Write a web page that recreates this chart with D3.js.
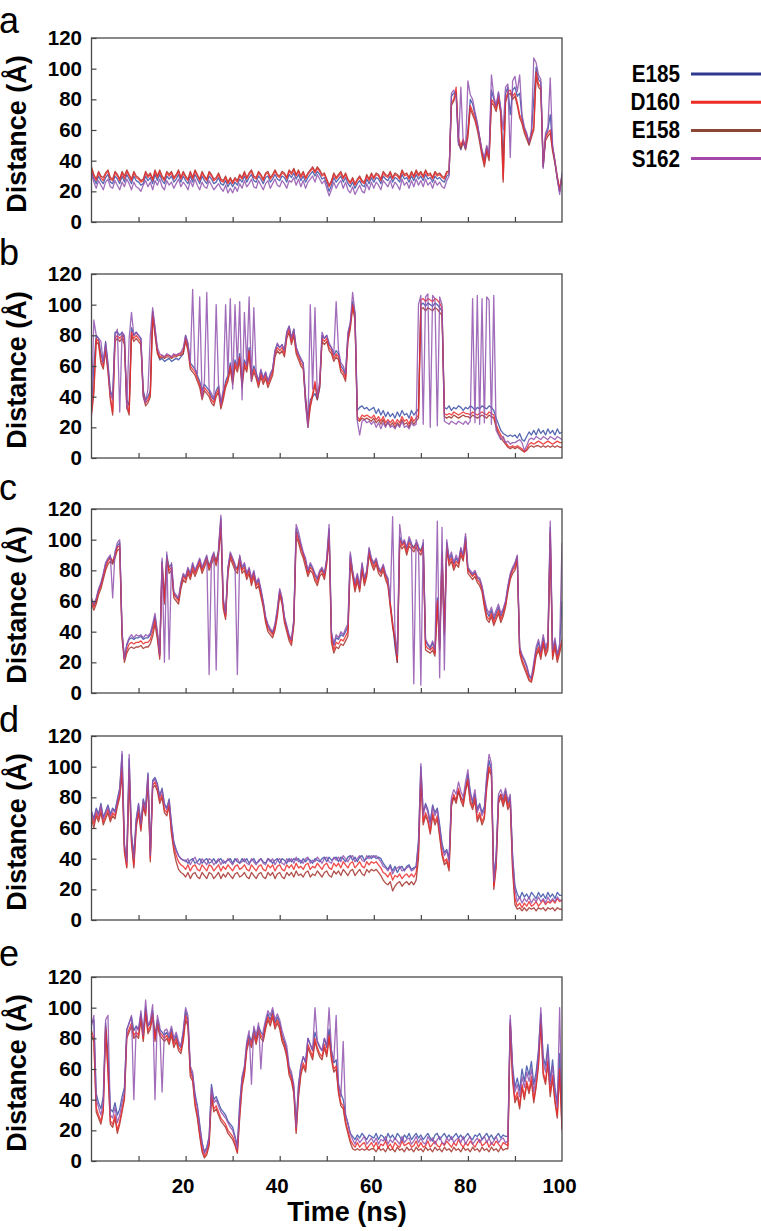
<!DOCTYPE html>
<html><head><meta charset="utf-8">
<script src="https://cdn.jsdelivr.net/npm/d3@7"></script>
<style>
body{margin:0;background:#fff}
svg{display:block}
.tick text{font-family:"Liberation Sans",Arial,Helvetica,sans-serif;font-weight:bold;font-size:20.5px;fill:#000}
.tick line{stroke:#444;stroke-width:1.2}
</style></head>
<body><svg id="chart" width="761" height="1231"></svg>
<script>
// ---------- data ----------
const seriesNames = ["E185","D160","E158","S162"];
const seriesColors = ["#3a4fa6","#ec2a2a","#a3302b","#9152ae"];
const legendColors = ["#2e3990","#ee2a24","#8a4736","#a447a8"];
const panelLetters = ["a","b","c","d","e"];
const yTickValues = [0,20,40,60,80,100,120];
const xTickValues = [10,20,30,40,50,60,70,80,90];
const xTickLabels = [20,40,60,80,100];
const timeStep = 0.5; // ns between samples, 0..100 ns

const aE185 = [33,28,25,30,27,25,29,31,26,25,30,28,25,30,26,31,28,25,30,27,
26,24,25,30,27,29,25,31,27,31,27,25,30,28,30,26,28,31,26,30,
27,25,30,26,31,28,25,30,27,25,30,28,25,26,29,25,24,27,23,26,
23,26,24,28,26,30,26,29,31,27,26,30,28,25,29,30,26,28,31,28,
27,30,29,26,31,29,32,28,31,27,30,26,29,31,33,30,33,31,28,29,
25,20,24,29,26,28,30,26,29,25,23,26,22,25,27,24,23,28,25,29,
26,29,28,25,30,28,27,30,26,29,28,26,31,28,29,26,30,27,31,28,
30,27,31,28,29,26,30,28,29,27,26,30,31,82,84,84,52,47,53,48,
60,80,77,70,64,55,46,40,49,43,86,80,75,84,73,40,84,88,70,86,
88,82,84,68,61,57,51,58,80,101,93,91,36,56,60,70,49,39,29,20,31];
const aD160 = [35,30,27,32,29,27,31,33,28,27,32,30,27,32,28,33,30,27,32,29,
28,26,27,32,29,31,27,33,29,33,29,27,32,30,32,28,30,33,28,32,
29,27,32,28,33,30,27,32,29,27,32,30,27,28,31,27,26,29,25,28,
25,28,26,30,28,32,28,31,33,29,28,32,30,27,31,32,28,30,33,30,
29,32,31,28,33,31,34,30,33,29,32,28,31,33,35,32,35,33,30,31,
27,23,26,31,28,30,32,28,31,27,25,28,24,27,29,26,25,30,27,31,
28,31,30,27,32,30,29,32,28,31,30,28,33,30,31,28,32,29,33,30,
32,29,33,30,31,28,32,30,31,29,28,32,32,78,80,88,55,50,54,49,
58,76,72,68,62,55,45,38,48,42,80,78,74,82,72,28,80,85,86,82,
84,78,70,66,60,56,52,57,62,98,90,88,38,55,58,60,48,40,30,22,30];
const aE158 = [36,31,28,33,30,29,32,34,29,28,33,31,28,33,30,34,31,28,33,30,
29,27,28,33,30,32,28,34,30,34,30,28,33,31,33,29,31,34,29,33,
30,28,33,29,34,31,28,33,30,28,33,31,28,29,32,28,27,30,26,29,
26,29,27,31,29,33,29,32,34,30,29,33,31,28,32,33,29,31,34,31,
30,33,32,29,34,32,35,31,34,30,33,29,32,34,36,33,36,34,31,32,
28,24,27,32,29,31,33,29,32,28,26,29,25,28,30,27,26,31,28,32,
29,32,31,28,33,31,30,33,29,32,31,29,34,31,32,29,33,30,34,31,
33,30,34,31,32,29,33,31,32,30,29,33,33,76,79,85,52,48,52,47,
55,74,70,66,60,52,43,36,46,40,78,76,72,80,70,26,78,83,84,80,
82,76,68,64,58,54,50,55,60,95,88,86,36,53,56,58,46,38,28,20,28];
const aS162 = [31,26,22,27,24,21,26,28,23,22,27,24,21,26,23,28,25,21,26,23,
22,20,24,27,23,26,21,27,24,28,23,21,27,24,26,22,25,28,23,26,
24,21,27,23,28,24,21,26,23,22,27,24,21,23,25,22,20,24,19,22,
19,23,20,25,22,27,23,25,28,23,22,27,24,21,25,27,22,25,28,24,
23,27,25,22,27,26,29,24,28,23,27,22,26,28,30,26,31,28,25,27,
22,17,21,26,22,25,27,22,26,21,19,23,18,21,24,20,19,25,21,26,
22,26,24,21,27,25,23,27,22,26,24,21,28,24,26,22,27,23,28,24,
27,23,28,24,26,22,27,24,26,23,22,27,30,84,86,82,50,88,52,48,
92,83,80,72,65,55,47,42,50,44,96,82,76,85,74,60,88,90,42,92,
95,85,96,70,62,58,52,60,107,104,96,93,35,58,62,94,50,40,28,18,32];

const bE185 = [33,60,80,78,68,62,76,62,44,40,82,82,80,82,78,38,34,85,80,82,
80,78,44,38,40,44,96,84,70,64,65,63,64,65,63,64,65,64,66,68,
80,74,62,60,58,54,50,44,48,46,44,40,38,44,47,36,42,50,54,62,
52,64,60,68,50,64,60,72,54,60,56,50,57,52,56,50,54,58,70,74,
72,74,70,82,86,78,84,72,68,64,62,40,26,38,40,42,38,46,80,78,
80,74,72,67,70,68,60,58,54,80,88,102,94,31,33,34,32,33,31,32,
33,29,32,28,31,27,30,27,29,26,30,27,31,28,29,26,31,28,30,32,
100,101,99,101,100,99,101,100,98,96,33,32,34,31,33,32,34,33,31,33,
32,34,33,31,33,32,34,33,32,34,33,31,26,22,18,16,15,14,15,14,
15,13,16,12,11,14,17,15,18,15,19,16,18,15,19,16,18,15,19,16,17];
const bD160 = [30,45,78,76,64,60,72,58,40,30,78,80,78,80,76,35,30,82,78,80,
78,76,42,36,38,42,95,82,70,66,67,66,67,67,66,67,67,68,68,70,
78,72,60,58,56,52,48,40,46,44,42,38,36,42,45,34,40,48,52,60,
50,62,58,66,48,62,58,70,52,58,54,48,55,50,54,48,52,56,68,72,
70,72,68,80,84,76,82,70,66,62,60,38,22,35,42,50,40,48,78,76,
78,72,70,65,68,66,58,56,52,78,86,100,92,27,25,28,27,28,27,26,
28,25,27,24,27,23,25,23,25,22,25,23,27,24,25,22,27,24,26,28,
103,104,102,104,103,102,104,103,101,98,29,28,29,28,30,29,28,29,30,29,
29,28,30,29,28,29,30,29,28,30,29,28,22,18,15,13,10,8,7,8,
7,8,7,6,4,6,9,10,9,10,11,10,9,10,11,10,9,10,11,10,10];
const bE158 = [28,42,76,74,62,58,70,56,38,28,76,78,76,78,74,33,28,80,76,78,
76,74,40,34,36,40,92,80,68,65,66,65,66,66,65,66,66,67,67,68,
76,70,58,56,54,50,46,38,44,42,40,36,34,40,43,32,38,46,50,58,
48,60,56,64,46,60,56,68,50,56,52,46,53,48,52,46,50,54,66,70,
68,70,66,78,82,74,80,68,64,60,58,36,20,33,40,48,38,46,76,74,
76,70,68,63,66,64,56,54,50,76,84,98,90,25,24,26,25,26,25,24,
26,23,25,22,25,21,23,21,23,20,23,21,25,22,23,20,25,22,24,26,
97,98,96,98,97,96,98,97,95,93,27,26,27,26,28,27,26,27,28,27,
27,26,28,27,26,27,28,27,26,28,27,26,20,16,13,11,9,7,6,7,
6,7,6,5,4,5,7,8,7,8,8,7,8,7,8,7,8,7,8,7,7];
const bS162 = [35,90,80,78,76,62,75,60,42,38,80,84,30,82,80,32,78,95,80,82,
80,78,40,36,45,80,98,85,72,68,67,66,68,67,66,68,67,68,69,72,
80,75,62,110,58,55,105,40,50,108,45,42,38,100,48,35,45,100,55,104,
45,100,60,102,38,95,60,105,50,98,55,50,58,52,56,50,55,58,70,75,
72,74,70,82,86,78,84,72,68,65,62,35,20,100,45,98,40,50,82,78,
80,75,72,68,102,70,62,60,55,82,88,108,95,24,15,24,25,23,24,22,
24,20,23,19,23,20,24,20,21,19,22,20,24,20,21,19,23,21,22,100,
106,22,105,107,20,106,104,21,105,100,24,23,22,24,23,22,24,23,22,24,
22,24,104,23,106,22,104,23,105,103,22,106,18,15,12,14,10,11,9,10,
10,11,12,10,5,8,12,13,12,14,13,12,14,13,12,14,13,12,14,13,12];

const cE185 = [61,57,61,67,71,77,84,87,89,85,91,96,98,39,23,31,35,36,35,36,
36,37,35,36,36,38,43,50,39,25,86,62,90,82,84,65,63,61,71,77,
75,81,77,84,79,83,87,81,85,89,83,87,91,86,93,114,60,51,81,91,
87,83,81,89,81,84,77,81,74,79,71,74,67,59,49,44,41,39,44,54,
67,61,49,43,37,34,47,107,102,96,91,86,79,84,81,77,74,79,81,77,
87,107,39,31,36,35,38,37,40,43,90,79,70,77,69,84,74,79,94,87,
84,87,81,79,83,77,74,59,46,30,20,102,97,99,94,100,97,95,98,95,
93,98,34,31,29,33,27,62,32,92,42,98,87,90,84,88,85,94,89,102,
81,79,77,79,75,74,69,60,53,50,54,48,52,56,50,54,59,69,77,81,
84,89,29,24,21,17,11,9,18,28,33,26,36,28,32,108,26,34,24,30,60];
const cD160 = [60,56,60,66,70,76,82,86,88,86,90,95,96,38,22,28,32,33,32,33,
33,34,32,33,33,35,40,48,38,24,85,60,88,80,82,64,62,60,70,76,
74,80,76,82,78,82,86,80,84,88,82,86,90,85,92,112,58,50,80,90,
86,82,80,88,80,82,76,80,72,78,70,72,65,58,48,42,40,38,43,52,
66,60,48,42,36,33,46,105,100,95,90,85,78,82,80,75,72,78,80,76,
86,105,36,28,33,32,35,34,37,40,88,78,68,75,68,82,72,78,92,86,
82,86,80,78,82,76,72,58,45,36,22,100,96,98,92,98,96,94,97,94,
92,96,31,29,28,30,26,60,30,90,40,96,85,88,82,86,84,92,88,100,
80,78,76,78,74,72,68,58,50,48,52,46,50,54,48,52,58,68,76,80,
82,88,28,22,18,14,9,8,16,26,30,24,34,26,30,105,24,32,22,28,35];
const cE158 = [58,54,58,64,68,74,80,84,86,84,88,93,94,35,20,26,29,30,29,30,
30,31,29,30,30,32,37,45,35,22,82,58,86,78,80,62,60,58,68,74,
72,78,74,80,76,80,84,78,82,86,80,84,88,83,90,108,55,48,78,88,
84,80,78,86,78,80,74,78,70,76,68,70,63,56,46,40,38,36,41,50,
64,58,46,40,34,31,44,102,98,92,88,82,76,80,78,73,70,76,78,74,
84,102,33,26,30,29,32,31,34,37,85,76,66,73,66,80,70,76,90,84,
80,84,78,76,80,74,70,56,43,34,20,97,94,96,90,96,94,92,95,92,
90,94,28,27,26,28,24,58,28,88,38,94,83,86,80,84,82,90,86,98,
78,76,74,76,72,70,66,56,48,46,50,44,48,52,46,50,56,66,74,78,
80,86,26,20,16,12,8,7,14,24,28,22,32,24,28,100,22,30,20,26,33];
const cS162 = [62,58,62,68,72,78,85,88,90,62,92,98,100,40,22,32,36,38,36,38,
37,38,36,38,37,39,45,52,40,25,88,20,92,22,85,66,64,62,72,78,
76,82,78,85,80,84,88,82,86,90,12,88,92,15,95,116,62,52,82,92,
88,84,12,90,82,85,78,82,75,80,72,75,68,60,50,45,42,40,45,55,
68,62,50,44,38,35,48,110,105,98,92,88,80,85,82,78,75,80,82,78,
88,110,40,32,38,36,40,38,42,45,92,80,72,78,70,85,75,80,95,88,
85,88,82,80,84,78,75,60,115,40,25,110,98,100,95,102,98,6,100,96,
5,100,35,32,30,34,28,112,10,108,15,100,88,92,85,90,86,95,90,104,
82,80,78,80,76,75,70,62,55,52,56,50,54,58,52,55,60,70,78,82,
85,90,30,25,22,18,12,10,20,30,35,28,38,30,34,112,28,36,25,32,98];

const dE185 = [71,66,73,69,76,67,71,75,69,73,71,79,86,108,48,40,105,56,42,66,
76,63,79,73,96,44,91,93,89,81,86,76,73,79,63,51,46,42,40,39,
39,37,39,40,37,38,40,37,39,40,37,38,40,37,39,40,37,38,39,40,
37,40,38,37,40,38,40,37,39,40,37,38,40,38,37,40,39,37,39,40,
37,40,39,37,40,38,40,39,40,37,40,38,40,39,37,40,39,38,40,41,
38,41,39,40,41,38,41,40,38,41,42,39,41,38,41,42,39,40,42,40,
42,40,41,40,37,35,33,36,32,35,31,34,35,32,35,36,33,34,35,52,
100,70,76,72,64,75,70,73,62,50,44,46,40,78,80,78,84,80,78,86,
95,84,76,82,72,76,70,74,92,104,98,28,42,80,82,78,84,76,80,42,
22,17,14,18,15,17,14,18,16,14,18,15,17,14,18,15,17,14,18,16,16];
const dD160 = [68,63,70,66,73,64,68,72,66,70,68,76,82,100,46,35,98,52,36,62,
72,60,76,70,92,40,88,90,86,78,82,72,70,76,58,48,42,38,36,35,
33,36,32,35,36,33,32,36,34,32,36,35,32,34,36,32,35,33,36,34,
32,35,36,33,34,36,33,32,36,34,32,35,36,33,32,36,34,36,32,35,
36,33,32,36,34,36,33,37,34,35,33,36,37,33,35,34,37,35,33,36,
37,34,33,37,35,37,34,38,36,34,37,38,34,36,38,35,34,38,36,38,
37,38,36,34,31,30,28,31,26,29,28,30,27,29,30,28,30,28,31,45,
95,64,70,66,58,70,64,68,56,44,38,40,34,76,82,78,86,80,76,86,
92,78,74,80,66,70,64,68,88,100,96,22,36,78,82,76,82,74,78,35,
14,9,11,8,11,9,12,9,10,12,9,11,13,10,12,11,13,11,14,12,13];
const dE158 = [66,60,68,64,70,62,66,70,64,68,66,74,80,96,44,34,95,50,34,60,
70,58,74,68,90,38,86,88,84,76,80,70,68,74,56,45,38,33,31,30,
28,31,27,30,31,28,27,31,29,27,31,30,27,29,31,27,30,28,31,29,
27,30,31,28,29,31,28,27,31,29,27,30,31,28,27,31,29,31,27,30,
31,28,27,31,29,31,28,32,29,30,28,31,32,28,30,29,32,30,28,31,
32,29,28,32,30,32,29,33,31,29,32,33,29,31,33,30,29,33,31,33,
32,33,31,29,26,24,23,25,19,22,24,25,22,24,25,23,25,23,26,40,
92,62,68,64,56,68,62,66,54,42,36,38,32,74,80,76,84,78,74,84,
90,76,72,78,64,68,62,66,86,98,94,20,34,76,80,74,80,72,76,32,
10,7,8,6,8,6,8,7,8,6,8,7,8,6,8,7,8,6,8,7,7];
const dS162 = [70,65,72,68,75,66,70,74,68,72,70,78,85,110,50,38,108,55,40,65,
75,62,78,72,95,42,90,92,88,80,85,75,72,78,62,50,45,42,40,39,
38,40,36,39,41,37,36,40,38,36,40,39,36,38,40,36,39,37,40,38,
36,39,40,37,38,40,37,36,40,38,36,39,40,37,36,40,38,40,36,39,
40,37,36,40,38,40,37,41,38,39,37,40,41,37,39,38,41,39,37,40,
41,38,37,41,39,41,38,42,40,38,41,42,38,40,42,39,38,42,40,42,
41,42,40,38,35,34,32,35,30,33,34,35,32,33,34,35,32,33,35,50,
102,68,75,70,62,74,68,72,60,48,42,45,38,80,85,82,90,84,80,90,
98,82,78,85,70,75,68,72,95,108,102,25,40,82,85,80,86,78,82,40,
20,12,15,11,14,12,15,11,14,12,15,12,14,11,15,12,14,12,15,13,13];

const eE185 = [90,92,44,38,34,42,90,70,34,32,38,30,34,42,48,86,90,94,85,88,
86,96,84,100,88,90,98,82,92,86,84,82,84,80,86,78,82,76,74,84,
98,92,60,56,44,36,24,12,6,9,16,50,40,42,38,34,32,30,26,24,
22,16,10,38,54,60,76,82,78,86,80,88,84,82,90,96,92,98,90,94,
90,82,78,72,60,56,48,24,50,62,68,64,80,76,72,84,78,74,72,80,
74,86,72,64,66,50,44,40,30,24,18,16,14,17,15,18,16,14,17,16,
15,18,14,17,16,13,18,15,17,14,18,16,13,17,15,18,14,16,18,15,
17,14,16,18,15,13,17,18,14,16,18,15,17,14,16,18,15,17,14,16,
18,15,14,17,16,18,14,16,18,15,17,14,16,18,15,17,16,16,92,62,
48,54,46,60,52,62,56,65,50,58,72,96,68,62,76,52,66,48,38,70,32];
const eD160 = [85,80,35,30,26,34,88,60,26,24,30,20,26,34,42,82,86,90,82,84,
82,94,80,98,85,88,96,80,90,84,82,80,82,78,84,76,80,74,72,80,
95,90,58,54,38,30,18,8,3,6,12,44,34,36,32,28,26,24,20,18,
16,12,6,30,50,58,74,80,76,84,78,86,82,80,88,94,90,96,88,92,
88,80,76,70,58,54,46,20,44,58,64,60,76,72,68,80,74,70,68,76,
70,82,68,60,62,46,38,36,26,20,14,11,9,12,9,11,12,8,10,12,
9,12,8,11,10,13,9,11,8,12,10,9,13,10,11,12,9,10,13,9,
12,9,10,13,9,11,13,10,9,12,10,13,11,9,12,10,14,11,9,12,
10,13,11,9,12,14,10,11,13,9,12,10,13,11,9,12,11,10,90,55,
40,45,36,50,42,52,46,55,40,50,64,92,58,52,66,45,56,40,30,60,22];
const eE158 = [82,78,32,28,24,32,86,58,24,22,28,18,24,32,40,80,84,88,80,82,
80,92,78,96,83,86,94,78,88,82,80,78,80,76,82,74,78,72,70,78,
92,88,55,52,36,28,16,6,2,4,10,42,32,34,30,26,24,22,18,16,
14,10,5,28,48,56,72,78,74,82,76,84,80,78,86,92,88,94,86,90,
86,78,74,68,56,52,44,18,42,56,62,58,74,70,66,78,72,68,66,74,
68,80,66,58,60,44,36,34,24,18,12,8,7,8,7,8,7,8,7,8,
8,6,9,7,8,6,9,7,8,6,9,7,8,6,9,7,8,6,9,7,
8,6,9,7,8,6,9,7,8,6,9,7,8,6,9,7,8,6,9,7,
8,6,9,7,8,6,9,7,8,6,9,7,8,6,9,7,8,8,88,52,
38,42,34,48,40,50,44,52,38,48,62,90,56,50,64,42,54,38,28,58,20];
const eS162 = [88,95,40,35,30,38,92,95,30,28,35,25,30,38,45,85,90,95,40,88,
85,98,82,105,88,92,102,40,95,88,45,85,86,82,88,80,84,78,75,85,
100,95,62,58,42,35,22,12,5,8,15,48,38,40,36,32,30,28,25,22,
20,15,8,35,55,62,78,85,50,88,82,90,60,85,92,98,95,100,92,96,
92,85,80,75,62,58,50,22,48,62,68,65,80,76,72,100,78,75,72,80,
75,100,72,65,95,50,42,78,30,25,18,14,11,15,12,14,16,11,13,15,
12,15,11,14,13,16,11,14,12,15,13,11,16,12,14,15,11,13,16,12,
15,12,11,16,13,15,11,14,16,12,11,15,13,16,12,14,15,12,16,11,
14,16,11,13,15,12,14,16,12,15,11,13,16,12,14,15,12,13,95,60,
45,50,42,55,48,58,52,60,45,55,70,100,65,58,72,50,62,45,35,100,28];

const panelSeries = [
  [aE185, aD160, aE158, aS162],
  [bE185, bD160, bE158, bS162],
  [cE185, cD160, cE158, cS162],
  [dE185, dD160, dE158, dS162],
  [eE185, eD160, eE158, eS162]
];

// ---------- layout ----------
const plotLeft = 91.5, plotRight = 562;
const panelTops = [38, 274, 509, 736, 977];
const panelHeight = 184;
const letterBaselines = [33, 265, 500, 732, 966];
const drawOrder = [0, 2, 1, 3];
const FONT = '"Liberation Sans", Arial, Helvetica, sans-serif';

const svg = d3.select("#chart");
const x = d3.scaleLinear().domain([0, 100]).range([plotLeft, plotRight]);
const defs = svg.append("defs");

panelSeries.forEach((series, pi) => {
  const top = panelTops[pi];
  const bottom = top + panelHeight;
  const y = d3.scaleLinear().domain([0, 120]).range([bottom, top]);
  const g = svg.append("g");

  defs.append("clipPath").attr("id", "clip" + pi)
    .append("rect").attr("x", plotLeft).attr("y", top)
    .attr("width", plotRight - plotLeft).attr("height", panelHeight);

  const line = d3.line().x((d, i) => x(i * timeStep)).y(d => y(d));
  const lines = g.append("g").attr("clip-path", `url(#clip${pi})`);
  drawOrder.forEach(si => {
    lines.append("path").datum(series[si])
      .attr("d", line)
      .attr("fill", "none")
      .attr("stroke", seriesColors[si])
      .attr("stroke-width", 1.3)
      .attr("stroke-opacity", 0.85)
      .attr("stroke-linejoin", "round");
  });

  // frame
  g.append("rect").attr("x", plotLeft).attr("y", top)
    .attr("width", plotRight - plotLeft).attr("height", panelHeight)
    .attr("fill", "none").attr("stroke", "#4a4a4a").attr("stroke-width", 1.3);

  // y axis
  const yAxis = d3.axisLeft(y).tickValues(yTickValues)
    .tickSizeInner(-5).tickSizeOuter(0).tickPadding(9.5);
  const yg = g.append("g").attr("transform", `translate(${plotLeft},0)`).call(yAxis);
  yg.select(".domain").remove();

  // x ticks (inward)
  const xAxis = d3.axisBottom(x).tickValues(xTickValues)
    .tickSizeInner(-5).tickSizeOuter(0).tickFormat("");
  const xg = g.append("g").attr("transform", `translate(0,${bottom})`).call(xAxis);
  xg.select(".domain").remove();

  if (pi === panelSeries.length - 1) {
    const xLab = d3.axisBottom(x).tickValues(xTickLabels)
      .tickSize(0).tickPadding(17.5).tickFormat(d3.format("d"));
    const xl = g.append("g").attr("transform", `translate(-3,${bottom})`).call(xLab);
    xl.select(".domain").remove();
    g.append("text").attr("x", 347).attr("y", bottom + 60)
      .attr("text-anchor", "middle")
      .style("font-family", FONT).style("font-weight", "bold").style("font-size", "27px")
      .text("Time (ns)");
  }

  // y label
  g.append("text")
    .attr("transform", `translate(26,${top + panelHeight / 2 + 4}) rotate(-90)`)
    .attr("text-anchor", "middle")
    .style("font-family", FONT).style("font-weight", "bold").style("font-size", "27px")
    .text("Distance (Å)");

  // panel letter
  g.append("text").attr("x", -1).attr("y", letterBaselines[pi])
    .style("font-family", FONT).style("font-size", "36px")
    .text(panelLetters[pi]);
});

// legend
const legend = svg.append("g");
seriesNames.forEach((name, i) => {
  const ly = 74 + i * 28.2;
  legend.append("text")
    .attr("transform", `translate(680,${ly + 8}) scale(0.9,1)`)
    .attr("text-anchor", "end")
    .style("font-family", FONT).style("font-weight", "bold").style("font-size", "23px")
    .text(name);
  legend.append("line").attr("x1", 691).attr("x2", 761)
    .attr("y1", ly).attr("y2", ly)
    .attr("stroke", legendColors[i]).attr("stroke-width", 3);
});
</script>
</body></html>
